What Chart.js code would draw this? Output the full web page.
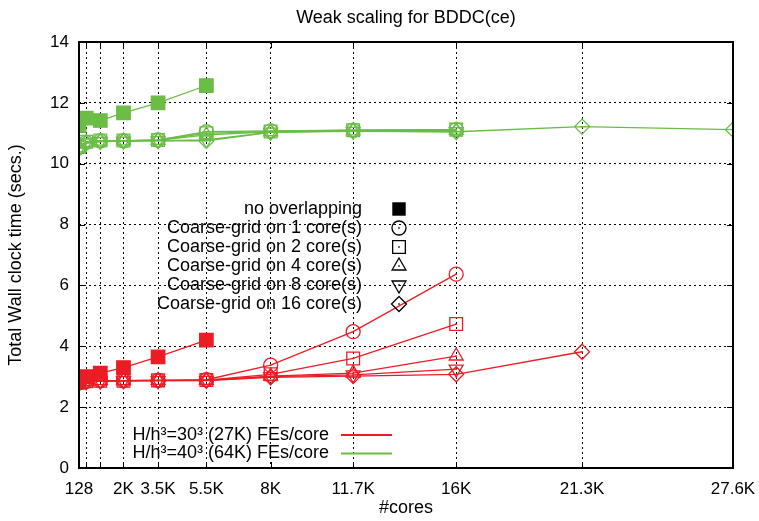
<!DOCTYPE html>
<html lang="en">
<head>
    <meta charset="UTF-8">
    <title>Weak scaling for BDDC(ce)</title>
    <style>
        html, body { margin: 0; padding: 0; background: #fff; }
        #wrap { width: 759px; height: 521px; position: relative; }
    </style>
    <script src="https://cdn.jsdelivr.net/npm/chart.js"></script>
</head>
<body>
    <div id="wrap"><canvas id="chart" width="759" height="521"></canvas></div>

    <script>
        // number of cores (2*n^3) and the labels shown under them
        const cores = [128, 432, 1024, 2000, 3456, 5488, 8192, 11664, 16000, 21296, 27648];
        const xTickLabels = ['128', '', '', '2K', '3.5K', '5.5K', '8K', '11.7K', '16K', '21.3K', '27.6K'];
        const yTicks = [0, 2, 4, 6, 8, 10, 12, 14];

        // H/h^3 = 30^3 (red)
        const red30NoOverlap = [2.85, 3.0, 3.12, 3.3, 3.65, 4.2];
        const red30Coarse1 = [2.8, 2.85, 2.87, 2.87, 2.88, 2.9, 3.38, 4.48, 6.37];
        const red30Coarse2 = [2.8, 2.85, 2.87, 2.87, 2.88, 2.89, 3.08, 3.6, 4.73];
        const red30Coarse4 = [2.8, 2.85, 2.87, 2.87, 2.88, 2.88, 3.02, 3.12, 3.68];
        const red30Coarse8 = [2.8, 2.84, 2.86, 2.87, 2.87, 2.88, 3.0, 3.06, 3.25];
        const red30Coarse16 = [2.78, 2.83, 2.85, 2.86, 2.87, 2.87, 2.98, 3.02, 3.08, 3.82];

        // H/h^3 = 40^3 (green)
        const green40NoOverlap = [11.25, 11.5, 11.42, 11.67, 12.0, 12.57];
        const green40Coarse1 = [10.55, 10.7, 10.75, 10.75, 10.78, 11.05, 11.08, 11.1, 11.12];
        const green40Coarse2 = [10.55, 10.72, 10.76, 10.76, 10.78, 11.0, 11.06, 11.1, 11.12];
        const green40Coarse4 = [10.52, 10.7, 10.74, 10.75, 10.77, 10.95, 11.05, 11.08, 11.1];
        const green40Coarse8 = [10.5, 10.68, 10.73, 10.74, 10.76, 10.78, 11.04, 11.06, 11.05];
        const green40Coarse16 = [10.5, 10.68, 10.73, 10.74, 10.76, 10.75, 11.03, 11.08, 11.05, 11.22, 11.12];

        const markerLegend = ['no overlapping', 'Coarse-grid on 1 core(s)', 'Coarse-grid on 2 core(s)',
            'Coarse-grid on 4 core(s)', 'Coarse-grid on 8 core(s)', 'Coarse-grid on 16 core(s)'];
        const colorLegend = ['H/h³=30³ (27K) FEs/core', 'H/h³=40³ (64K) FEs/core'];

        const RED = '#ec1c24';
        const GREEN = '#6bbd45';
        const FONT = "'Liberation Sans', Arial, sans-serif";

        // marker per series: filled square, circle, square, triangle, down triangle, diamond
        const markers = [
            { style: 'rect', radius: 9.5, rotation: 0, filled: true },
            { style: 'circle', radius: 7, rotation: 0, filled: false },
            { style: 'rect', radius: 9, rotation: 0, filled: false },
            { style: 'triangle', radius: 8, rotation: 0, filled: false },
            { style: 'triangle', radius: 8, rotation: 180, filled: false },
            { style: 'rectRot', radius: 7.5, rotation: 0, filled: false }
        ];

        function makeSet(values, color, m) {
            return {
                data: values.map((y, i) => ({ x: cores[i], y: y })),
                borderColor: color,
                borderWidth: 1.3,
                pointStyle: m.style,
                pointRadius: m.radius,
                pointHoverRadius: m.radius,
                pointRotation: m.rotation,
                pointBorderColor: color,
                pointBackgroundColor: m.filled ? color : 'rgba(0,0,0,0)',
                pointBorderWidth: 1.3,
                tension: 0,
                fill: false,
                hollow: !m.filled
            };
        }

        const redSeries = [red30NoOverlap, red30Coarse1, red30Coarse2, red30Coarse4, red30Coarse8, red30Coarse16];
        const greenSeries = [green40NoOverlap, green40Coarse1, green40Coarse2, green40Coarse4, green40Coarse8, green40Coarse16];
        const datasets = [];
        greenSeries.forEach((s, i) => datasets.push(makeSet(s, GREEN, markers[i])));
        redSeries.forEach((s, i) => datasets.push(makeSet(s, RED, markers[i])));

        // draws one marker by hand (used for the legend)
        function drawMarker(ctx, m, x, y, color) {
            ctx.save();
            ctx.strokeStyle = color;
            ctx.fillStyle = color;
            ctx.lineWidth = 1.3;
            ctx.beginPath();
            if (m.style === 'circle') {
                ctx.arc(x, y, m.radius, 0, Math.PI * 2);
            } else if (m.style === 'rect') {
                const s = Math.SQRT1_2 * m.radius;
                ctx.rect(x - s, y - s, 2 * s, 2 * s);
            } else if (m.style === 'triangle') {
                const r = m.radius;
                const dir = m.rotation ? -1 : 1;
                ctx.moveTo(x, y - dir * r);
                ctx.lineTo(x + r * 0.866, y + dir * r * 0.5);
                ctx.lineTo(x - r * 0.866, y + dir * r * 0.5);
                ctx.closePath();
            } else if (m.style === 'rectRot') {
                const r = m.radius;
                ctx.moveTo(x, y - r);
                ctx.lineTo(x + r, y);
                ctx.lineTo(x, y + r);
                ctx.lineTo(x - r, y);
                ctx.closePath();
            }
            if (m.filled) ctx.fill(); else ctx.stroke();
            if (!m.filled) ctx.fillRect(x - 0.75, y - 0.75, 1.5, 1.5);
            ctx.restore();
        }

        const gnuplotLook = {
            id: 'gnuplotLook',
            afterDatasetsDraw(chart) {
                // small dot in the middle of every hollow marker
                const ctx = chart.ctx;
                chart.data.datasets.forEach((ds, i) => {
                    if (!ds.hollow) return;
                    ctx.save();
                    ctx.fillStyle = ds.borderColor;
                    chart.getDatasetMeta(i).data.forEach(p => {
                        ctx.fillRect(p.x - 0.75, p.y - 0.75, 1.5, 1.5);
                    });
                    ctx.restore();
                });
            },
            afterDraw(chart) {
                const ctx = chart.ctx;
                const a = chart.chartArea;
                const xs = chart.scales.x, ys = chart.scales.y;
                ctx.save();

                // frame and inward ticks
                ctx.strokeStyle = '#000';
                ctx.lineWidth = 2;
                ctx.strokeRect(a.left, a.top, a.right - a.left, a.bottom - a.top);
                ctx.lineWidth = 1;
                ctx.beginPath();
                cores.forEach(v => {
                    const px = Math.round(xs.getPixelForValue(v)) + 0.5;
                    ctx.moveTo(px, a.bottom); ctx.lineTo(px, a.bottom - 6);
                    ctx.moveTo(px, a.top); ctx.lineTo(px, a.top + 6);
                });
                yTicks.forEach(v => {
                    const py = Math.round(ys.getPixelForValue(v)) + 0.5;
                    ctx.moveTo(a.left, py); ctx.lineTo(a.left + 6, py);
                    ctx.moveTo(a.right, py); ctx.lineTo(a.right - 6, py);
                });
                ctx.stroke();

                // title
                ctx.fillStyle = '#000';
                ctx.font = '18px ' + FONT;
                ctx.textAlign = 'center';
                ctx.textBaseline = 'middle';
                ctx.fillText('Weak scaling for BDDC(ce)', (a.left + a.right) / 2, 18);

                // marker legend (black symbols)
                ctx.textAlign = 'right';
                markerLegend.forEach((t, i) => {
                    const y = 209 + i * 19;
                    ctx.fillStyle = '#000';
                    ctx.fillText(t, 362, y);
                    drawMarker(ctx, markers[i], 399, y, '#000');
                });

                // colour legend (line samples)
                const cols = [RED, GREEN];
                colorLegend.forEach((t, i) => {
                    const y = 435 + i * 18.5;
                    ctx.fillStyle = '#000';
                    ctx.fillText(t, 329, y);
                    ctx.strokeStyle = cols[i];
                    ctx.lineWidth = 2;
                    ctx.beginPath();
                    ctx.moveTo(341, y); ctx.lineTo(392, y);
                    ctx.stroke();
                });
                ctx.restore();
            }
        };

        new Chart(document.getElementById('chart'), {
            type: 'line',
            data: { datasets: datasets },
            options: {
                responsive: false,
                animation: false,
                events: [],
                layout: { padding: { top: 42, right: 26, left: 0, bottom: 0 } },
                plugins: {
                    legend: { display: false },
                    title: { display: false },
                    tooltip: { enabled: false }
                },
                scales: {
                    x: {
                        type: 'linear',
                        min: 128,
                        max: 27648,
                        afterFit: s => {
                            s.height = 53;
                            s.paddingLeft = 0;
                            s.paddingRight = 0;
                        },
                        afterBuildTicks: s => { s.ticks = cores.map(v => ({ value: v })); },
                        ticks: {
                            autoSkip: false,
                            maxRotation: 0,
                            padding: 11,
                            color: '#000',
                            font: { family: FONT, size: 17 },
                            callback: (v, i) => xTickLabels[i]
                        },
                        grid: {
                            drawTicks: false,
                            color: c => (c.index === 0 || c.index === cores.length - 1) ? 'rgba(0,0,0,0)' : '#000',
                            lineWidth: 1
                        },
                        border: { display: false, dash: [2, 3] },
                        title: {
                            display: true,
                            text: '#cores',
                            color: '#000',
                            font: { family: FONT, size: 18 },
                            padding: { top: 0, bottom: 2 }
                        }
                    },
                    y: {
                        min: 0,
                        max: 14,
                        afterFit: s => { s.width = 79; },
                        afterBuildTicks: s => { s.ticks = yTicks.map(v => ({ value: v })); },
                        ticks: {
                            padding: 10,
                            color: '#000',
                            font: { family: FONT, size: 17 }
                        },
                        grid: {
                            drawTicks: false,
                            color: c => (c.tick && (c.tick.value === 0 || c.tick.value === 14)) ? 'rgba(0,0,0,0)' : '#000',
                            lineWidth: 1
                        },
                        border: { display: false, dash: [2, 3] },
                        title: {
                            display: true,
                            text: 'Total Wall clock time (secs.)',
                            color: '#000',
                            font: { family: FONT, size: 18 },
                            padding: { top: 5, bottom: 0 }
                        }
                    }
                }
            },
            plugins: [gnuplotLook]
        });
    </script>
</body>
</html>
